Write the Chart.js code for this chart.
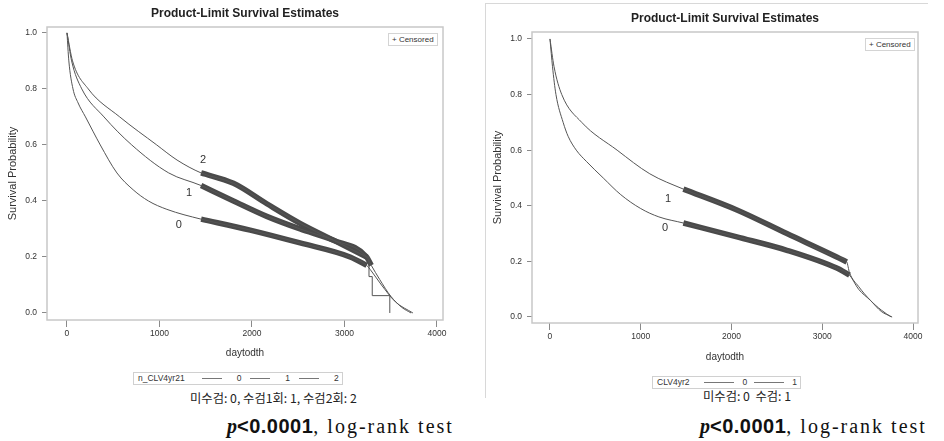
<!DOCTYPE html>
<html>
<head>
<meta charset="utf-8">
<script src="https://cdn.jsdelivr.net/npm/chart.js@4.4.1/dist/chart.umd.min.js"></script>
<style>
body { margin:0; width:944px; height:441px; background:#fff; position:relative; overflow:hidden; font-family:"Liberation Sans", Arial, sans-serif; color:#333; }
canvas { position:absolute; }
.abs { position:absolute; white-space:nowrap; }
.title { font-weight:bold; font-size:12px; color:#222; transform:translateX(-50%); }
.cens { border:1px solid #d4d4d4; font-size:8px; line-height:11px; padding:0 3px; background:#fff; color:#333; }
.legend { border:1px solid #d0d0d0; font-size:8.5px; height:11px; line-height:11px; padding:0 3px 0 4px; display:flex; align-items:center; color:#333; }
.legend .ln { display:inline-block; border-top:1px solid #777; height:0; }
.kr { font-family:"Noto Sans CJK KR", sans-serif; font-size:12.3px; color:#222; }
.pval { font-family:"Liberation Serif", serif; font-size:20px; color:#111; letter-spacing:2px; }
.pval i { font-weight:bold; letter-spacing:0; }
.pval b { font-family:"Liberation Sans", sans-serif; letter-spacing:0.5px; }
#frame2 { left:485px; top:3px; width:442px; height:394px; border-left:1px solid #d8d8d8; border-top:1px solid #d8d8d8; }
</style>
</head>
<body>
<div class="abs" id="frame2"></div>

<canvas id="kmLeft" width="470" height="362" style="left:0;top:0"></canvas>
<canvas id="kmRight" width="474" height="366" style="left:470px;top:0"></canvas>

<div class="abs title" style="left:245px;top:6px">Product-Limit Survival Estimates</div>
<div class="abs title" style="left:725px;top:11px">Product-Limit Survival Estimates</div>

<div class="abs cens" style="left:388px;top:33px">+ Censored</div>
<div class="abs cens" style="left:865px;top:38px">+ Censored</div>

<div class="abs legend" id="legLeft" style="left:133px;top:372px"></div>
<div class="abs legend" id="legRight" style="left:652px;top:376px"></div>

<div class="abs kr" style="left:190px;top:389px">미수검: 0, 수검1회: 1, 수검2회: 2</div>
<div class="abs kr" style="left:703px;top:387px">미수검: 0&nbsp; 수검: 1</div>

<div class="abs pval" style="left:227px;top:415px"><i>p</i><b>&lt;0.0001</b>, log-rank test</div>
<div class="abs pval" style="left:700px;top:415px"><i>p</i><b>&lt;0.0001</b>, log-rank test</div>

<script>
// axis ticks
const xTicks = [0, 1000, 2000, 3000, 4000];
const yTicks = [0, 0.2, 0.4, 0.6, 0.8, 1.0];

// left chart : n_CLV4yr21 (0, 1, 2)
const leftGroups = ['0', '1', '2'];
const l0Time = [0, 20, 65, 120, 200, 360, 540, 715, 880, 1080, 1450, 1980, 2520, 3060, 3240, 3290, 3400, 3550, 3740];
const l0Surv = [1.0, 0.90, 0.80, 0.75, 0.70, 0.60, 0.50, 0.44, 0.40, 0.37, 0.335, 0.296, 0.25, 0.20, 0.17, 0.15, 0.10, 0.04, 0.0];
const l1Time = [0, 50, 160, 400, 700, 1100, 1450, 1800, 2160, 2520, 2880, 3240, 3290, 3380, 3500, 3620, 3720];
const l1Surv = [1.0, 0.90, 0.80, 0.70, 0.60, 0.50, 0.455, 0.40, 0.345, 0.30, 0.26, 0.20, 0.17, 0.12, 0.06, 0.02, 0.0];
const l2Time = [0, 60, 230, 570, 970, 1190, 1450, 1800, 2160, 2520, 2880, 3240];
const l2Surv = [1.0, 0.90, 0.80, 0.70, 0.60, 0.546, 0.50, 0.463, 0.39, 0.32, 0.26, 0.20];
// group 2 tail is a visible step function
const l2TailTime = [3240, 3265, 3300, 3490];
const l2TailSurv = [0.20, 0.13, 0.062, 0.0];
// censored range (dense + marks)
const leftCensFrom = [1450, 1450, 1450];
const leftCensTo = [3270, 3290, 3250];
// curve labels
const leftLabelTime = [1210, 1320, 1470];
const leftLabelSurv = [0.314, 0.43, 0.546];

// right chart : CLV4yr2 (0, 1)
const rightGroups = ['0', '1'];
const r0Time = [0, 28, 66, 145, 200, 290, 400, 587, 780, 1000, 1200, 1470, 2060, 2610, 3160, 3300, 3400, 3530, 3650, 3770];
const r0Surv = [1.0, 0.90, 0.80, 0.70, 0.65, 0.60, 0.56, 0.50, 0.44, 0.39, 0.36, 0.338, 0.288, 0.24, 0.176, 0.151, 0.10, 0.06, 0.02, 0.0];
const r1Time = [0, 45, 130, 350, 740, 1100, 1470, 2060, 2610, 3160, 3270, 3300, 3400, 3530, 3650, 3760];
const r1Surv = [1.0, 0.90, 0.80, 0.70, 0.60, 0.515, 0.46, 0.385, 0.30, 0.216, 0.198, 0.16, 0.11, 0.06, 0.025, 0.0];
const rightCensFrom = [1470, 1470];
const rightCensTo = [3300, 3290];
const rightLabelTime = [1267, 1300];
const rightLabelSurv = [0.32, 0.424];

Chart.defaults.font.family = '"Liberation Sans", Arial, sans-serif';
Chart.defaults.color = '#333';

function pts(ts, ss) {
    return ts.map((t, i) => ({ x: t, y: ss[i] }));
}

function curve(ts, ss, extra) {
    return Object.assign({
        data: pts(ts, ss),
        borderColor: '#555',
        borderWidth: 1,
        pointRadius: 0,
        fill: false,
        cubicInterpolationMode: 'monotone',
    }, extra || {});
}

// thick band where the censor marks pile up
function band(ts, ss, from, to) {
    const p = pts(ts, ss).filter(d => d.x >= from && d.x <= to);
    return curve(p.map(d => d.x), p.map(d => d.y), { borderWidth: 5.5, borderColor: '#4a4a4a', borderCapStyle: 'butt' });
}

// light frame around the plot area
const framePlugin = {
    id: 'frame',
    beforeDatasetsDraw(chart) {
        const a = chart.chartArea;
        const ctx = chart.ctx;
        ctx.save();
        ctx.strokeStyle = '#c8c8c8';
        ctx.lineWidth = 1.5;
        ctx.strokeRect(a.left, a.top, a.right - a.left, a.bottom - a.top);
        ctx.restore();
    },
};

// group numbers next to the curves
const curveLabelPlugin = {
    id: 'curveLabels',
    afterDatasetsDraw(chart, args, opts) {
        const ctx = chart.ctx;
        ctx.save();
        ctx.font = '11px "Liberation Sans", Arial, sans-serif';
        ctx.fillStyle = '#333';
        ctx.textAlign = 'center';
        ctx.textBaseline = 'middle';
        opts.names.forEach((n, i) => {
            ctx.fillText(n, chart.scales.x.getPixelForValue(opts.times[i]), chart.scales.y.getPixelForValue(opts.survs[i]));
        });
        ctx.restore();
    },
};

function makeChart(id, cfg) {
    return new Chart(document.getElementById(id), {
        type: 'line',
        data: { datasets: cfg.datasets },
        options: {
            responsive: false,
            animation: false,
            layout: { padding: cfg.padding },
            plugins: {
                legend: { display: false },
                tooltip: { enabled: false },
                curveLabels: cfg.labels,
            },
            scales: {
                x: {
                    type: 'linear',
                    min: cfg.xMin,
                    max: cfg.xMax,
                    afterBuildTicks: s => { s.ticks = xTicks.map(v => ({ value: v })); },
                    afterFit: s => { s.height = cfg.xAxisH; },
                    ticks: { font: { size: 8.5 }, padding: 2, maxRotation: 0, autoSkip: false, callback: v => String(v) },
                    grid: { drawOnChartArea: false, drawTicks: true, tickLength: 7, color: '#8a8a8a' },
                    border: { display: false },
                    title: { display: true, text: 'daytodth', font: { size: 10 }, padding: { top: 0, bottom: 3 } },
                },
                y: {
                    type: 'linear',
                    min: cfg.yMin,
                    max: cfg.yMax,
                    afterBuildTicks: s => { s.ticks = yTicks.map(v => ({ value: v })); },
                    afterFit: s => { s.width = cfg.yAxisW; },
                    ticks: { font: { size: 8.5 }, padding: 5, callback: v => v.toFixed(1) },
                    grid: { drawOnChartArea: false, drawTicks: true, tickLength: 5, color: '#8a8a8a' },
                    border: { display: false },
                    title: { display: true, text: 'Survival Probability', font: { size: 11 }, padding: { top: cfg.yTitlePad, bottom: 0 } },
                },
            },
        },
        plugins: [framePlugin, curveLabelPlugin],
    });
}

function buildLegend(id, name, groups, lineW, gaps) {
    const el = document.getElementById(id);
    let html = '<span>' + name + '</span>';
    groups.forEach((g, i) => {
        const before = i === 0 ? gaps[0] : gaps[2];
        html += '<span class="ln" style="width:' + lineW + 'px;margin-left:' + before + 'px"></span>';
        html += '<span style="margin-left:' + gaps[1] + 'px">' + g + '</span>';
    });
    el.innerHTML = html;
}

function createAndRenderCharts() {
    makeChart('kmLeft', {
        xMin: -216, xMax: 4065, yMin: -0.025, yMax: 1.021,
        padding: { left: 0, top: 27, right: 27, bottom: 0 },
        yAxisW: 47, xAxisH: 42, yTitlePad: 6,
        labels: { names: leftGroups, times: leftLabelTime, survs: leftLabelSurv },
        datasets: [
            curve(l0Time, l0Surv),
            curve(l1Time, l1Surv),
            curve(l2Time, l2Surv),
            curve(l2TailTime, l2TailSurv, { cubicInterpolationMode: 'default', stepped: true }),
            band(l0Time, l0Surv, leftCensFrom[0], leftCensTo[0]),
            band(l1Time, l1Surv, leftCensFrom[1], leftCensTo[1]),
            band(l2Time, l2Surv, leftCensFrom[2], leftCensTo[2]),
        ],
    });

    makeChart('kmRight', {
        xMin: -198, xMax: 4055, yMin: -0.0216, yMax: 1.025,
        padding: { left: 16, top: 32, right: 26, bottom: 0 },
        yAxisW: 46, xAxisH: 43, yTitlePad: 5,
        labels: { names: rightGroups, times: rightLabelTime, survs: rightLabelSurv },
        datasets: [
            curve(r0Time, r0Surv),
            curve(r1Time, r1Surv),
            band(r0Time, r0Surv, rightCensFrom[0], rightCensTo[0]),
            band(r1Time, r1Surv, rightCensFrom[1], rightCensTo[1]),
        ],
    });

    buildLegend('legLeft', 'n_CLV4yr21', leftGroups, 20, [17, 15, 9]);
    buildLegend('legRight', 'CLV4yr2', rightGroups, 30, [15, 8, 7]);
}

createAndRenderCharts();
</script>
</body>
</html>
